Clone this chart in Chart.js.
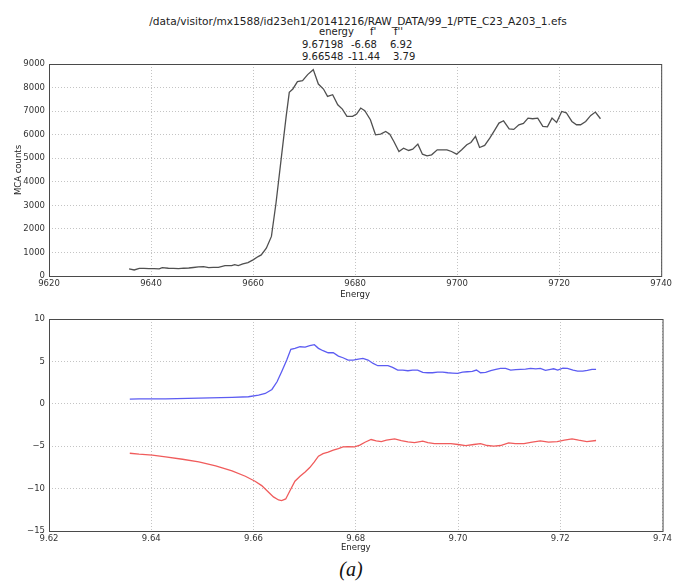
<!DOCTYPE html>
<html>
<head>
<meta charset="utf-8">
<script src="https://cdn.jsdelivr.net/npm/chart.js@4"></script>
<style>
  body { margin: 0; background: #fff; width: 675px; height: 581px; position: relative; overflow: hidden; }
  canvas { position: absolute; left: 0; }
  .t { position: absolute; font: 10.6px "DejaVu Sans", sans-serif; color: #222; line-height: 12px; white-space: pre; }
  .r { font-size: 10px; }
</style>
</head>
<body>
<div class="t" style="left:0;width:716px;top:15px;text-align:center">/data/visitor/mx1588/id23eh1/20141216/RAW_DATA/99_1/PTE_C23_A203_1.efs</div>
<div class="t r" style="left:319px;top:26px">energy</div>
<div class="t r" style="left:370px;top:26px">f'</div>
<div class="t r" style="left:394px;top:26px">f''</div>
<div class="t r" style="left:302px;top:39px">9.67198</div>
<div class="t r" style="left:351px;top:39px">-6.68</div>
<div class="t r" style="left:390px;top:39px">6.92</div>
<div class="t r" style="left:302px;top:51px">9.66548</div>
<div class="t r" style="left:348px;top:51px">-11.44</div>
<div class="t r" style="left:393px;top:51px">3.79</div>

<canvas id="top" width="675" height="300" style="top:0"></canvas>
<canvas id="bottom" width="675" height="256" style="top:300px"></canvas>

<div style="position:absolute;left:351px;top:558px;transform:translateX(-50%);font:italic 20px 'Liberation Serif', serif;color:#111">(a)</div>

<script>
// MCA scan (eV)
const scanEnergy = [
  9635.7, 9636.7, 9637.7, 9638.6, 9639.6, 9640.6, 9641.6, 9642.2, 9643.4, 9644.4,
  9645.4, 9646.4, 9647.4, 9648.3, 9649.3, 9650.3, 9651.3, 9652.2, 9653.2, 9654.5,
  9655.8, 9656.4, 9657.1, 9658.0, 9659.0, 9660.0, 9661.0, 9661.6, 9662.6, 9663.6,
  9664.5, 9665.5, 9666.5, 9667.1, 9667.8, 9668.7, 9669.7, 9670.7, 9671.8, 9672.8,
  9673.8, 9674.6, 9675.6, 9676.6, 9677.5, 9678.4, 9679.5, 9680.3, 9681.1, 9681.9,
  9683.0, 9684.0, 9685.0, 9686.0, 9686.8, 9687.6, 9688.6, 9689.5, 9690.5, 9691.3,
  9692.3, 9693.2, 9694.1, 9695.0, 9696.1, 9697.0, 9698.0, 9698.9, 9699.9, 9700.9,
  9701.9, 9702.7, 9703.6, 9704.4, 9705.4, 9706.4, 9707.4, 9708.2, 9709.1, 9710.2,
  9711.1, 9712.1, 9713.0, 9713.9, 9714.8, 9715.8, 9716.8, 9717.7, 9718.6, 9719.5,
  9720.5, 9721.4, 9722.5, 9723.4, 9724.2, 9725.2, 9726.2, 9727.1, 9728.1
];
const mcaCounts = [
  300, 256, 327, 320, 313, 310, 300, 355, 330, 320,
  313, 330, 340, 360, 384, 400, 355, 365, 370, 441,
  441, 483, 441, 512, 569, 683, 825, 896, 1180, 1680,
  3100, 4950, 6800, 7795, 7940, 8250, 8290, 8550, 8760, 8150,
  7937, 7625, 7695, 7270, 7086, 6775, 6775, 6874, 7130, 7015,
  6633, 5995, 6024, 6137, 6024, 5711, 5286, 5428, 5329, 5385,
  5598, 5173, 5102, 5145, 5357, 5357, 5357, 5286, 5173, 5357,
  5570, 5669, 5924, 5456, 5541, 5853, 6207, 6491, 6590, 6250,
  6222, 6420, 6477, 6703, 6675, 6703, 6349, 6335, 6703, 6519,
  6987, 6930, 6562, 6420, 6420, 6562, 6817, 6959, 6675
];

// f'' (keV)
const fppEnergy = [
  9.6358, 9.6376, 9.6428, 9.6493, 9.6558, 9.6590, 9.6610, 9.6623, 9.6636, 9.6646,
  9.6655, 9.6665, 9.6673, 9.6681, 9.6691, 9.6701, 9.6710, 9.6719, 9.6727, 9.6736,
  9.6746, 9.6756, 9.6766, 9.6775, 9.6785, 9.6795, 9.6805, 9.6814, 9.6824, 9.6834,
  9.6843, 9.6853, 9.6863, 9.6872, 9.6882, 9.6892, 9.6902, 9.6911, 9.6921, 9.6931,
  9.6941, 9.6950, 9.6960, 9.6970, 9.6980, 9.6989, 9.6999, 9.7009, 9.7018, 9.7028,
  9.7036, 9.7044, 9.7054, 9.7064, 9.7074, 9.7083, 9.7093, 9.7103, 9.7113, 9.7122,
  9.7132, 9.7142, 9.7152, 9.7161, 9.7171, 9.7181, 9.7187, 9.7195, 9.7205, 9.7214,
  9.7225, 9.7234, 9.7244, 9.7253, 9.7262, 9.7270
];
const fppValues = [
  0.55, 0.59, 0.59, 0.67, 0.75, 0.83, 1.02, 1.22, 1.69, 2.60,
  3.78, 5.16, 6.42, 6.54, 6.73, 6.69, 6.85, 6.97, 6.54, 6.26,
  6.02, 6.02, 5.63, 5.43, 5.16, 5.16, 5.28, 5.35, 5.16, 4.76,
  4.49, 4.49, 4.49, 4.29, 3.98, 3.98, 3.90, 3.98, 3.98, 3.70,
  3.66, 3.66, 3.74, 3.74, 3.66, 3.62, 3.58, 3.74, 3.78, 3.82,
  3.98, 3.66, 3.70, 3.90, 4.06, 4.17, 4.17, 3.98, 4.02, 4.06,
  4.09, 4.17, 4.13, 4.17, 3.94, 4.06, 4.13, 3.98, 4.21, 4.17,
  3.98, 3.86, 3.86, 3.94, 4.06, 4.06
];

// f' (keV)
const fpEnergy = [
  9.6358, 9.6376, 9.6402, 9.6428, 9.6461, 9.6493, 9.6526, 9.6558, 9.6584, 9.6603,
  9.6616, 9.6629, 9.6639, 9.6649, 9.6655, 9.6663, 9.6671, 9.6681, 9.6691, 9.6701,
  9.6710, 9.6719, 9.6727, 9.6736, 9.6746, 9.6756, 9.6766, 9.6775, 9.6785, 9.6798,
  9.6808, 9.6818, 9.6830, 9.6840, 9.6850, 9.6860, 9.6876, 9.6889, 9.6902, 9.6915,
  9.6931, 9.6941, 9.6954, 9.6970, 9.6986, 9.7000, 9.7015, 9.7031, 9.7044, 9.7057,
  9.7070, 9.7083, 9.7099, 9.7112, 9.7129, 9.7145, 9.7161, 9.7177, 9.7194, 9.7208,
  9.7223, 9.7236, 9.7252, 9.7270
];
const fpValues = [
  -5.83, -5.94, -6.06, -6.26, -6.54, -6.85, -7.32, -7.91, -8.54, -9.13,
  -9.65, -10.39, -10.98, -11.34, -11.42, -11.22, -10.28, -9.13, -8.54, -8.03,
  -7.52, -6.85, -6.18, -5.87, -5.71, -5.47, -5.28, -5.08, -5.04, -5.08,
  -4.88, -4.53, -4.21, -4.37, -4.45, -4.29, -4.13, -4.33, -4.49, -4.57,
  -4.41, -4.57, -4.69, -4.69, -4.69, -4.80, -4.92, -4.80, -4.69, -4.92,
  -5.00, -4.92, -4.61, -4.69, -4.69, -4.53, -4.37, -4.53, -4.45, -4.29,
  -4.13, -4.29, -4.45, -4.33
];

const topTicksX = [9620, 9640, 9660, 9680, 9700, 9720, 9740];
const topTicksY = [0, 1000, 2000, 3000, 4000, 5000, 6000, 7000, 8000, 9000];
const bottomTicksY = [-15, -10, -5, 0, 5, 10];

const FONT = "'DejaVu Sans', sans-serif";
const pairs = (xs, ys) => xs.map((x, i) => ({ x: x, y: ys[i] }));

// matplotlib-ish frame round the plot area
const framePlugin = {
  id: "frame",
  afterDraw(chart) {
    const a = chart.chartArea;
    const ctx = chart.ctx;
    ctx.save();
    ctx.strokeStyle = "#4a4a4a";
    ctx.lineWidth = 1;
    ctx.strokeRect(a.left + 0.5, a.top + 0.5, a.right - a.left, a.bottom - a.top);
    ctx.restore();
  }
};

const tickFont = { family: FONT, size: 8.5 };
const titleFont = { family: FONT, size: 8.5 };

function axisStyle(extra) {
  return Object.assign({
    type: "linear",
    grid: { color: "#c4c4c4", lineWidth: 1, drawTicks: false },
    border: { display: false, dash: [1, 2] }
  }, extra);
}

new Chart(document.getElementById("top"), {
  type: "line",
  data: {
    datasets: [{
      data: pairs(scanEnergy, mcaCounts),
      borderColor: "#505050",
      borderWidth: 1.3,
      pointRadius: 0,
      tension: 0
    }]
  },
  options: {
    responsive: false,
    animation: false,
    devicePixelRatio: 1,
    layout: { padding: { top: 64, right: 10, left: 14, bottom: 0 } },
    plugins: { legend: { display: false }, tooltip: { enabled: false } },
    scales: {
      x: axisStyle({
        min: 9620, max: 9740,
        afterBuildTicks: (s) => { s.ticks = topTicksX.map(v => ({ value: v })); },
        ticks: { color: "#333", font: tickFont, padding: 3, maxRotation: 0, autoSkip: false, callback: (v) => String(v) },
        afterFit: (s) => { s.height = 24; },
        title: { display: true, text: "Energy", color: "#222", font: titleFont, padding: 0 }
      }),
      y: axisStyle({
        min: 0, max: 9000,
        afterBuildTicks: (s) => { s.ticks = topTicksY.map(v => ({ value: v })); },
        ticks: { color: "#333", font: tickFont, padding: 4, autoSkip: false, callback: (v) => String(v) },
        afterFit: (s) => { s.width = 35; },
        title: { display: true, text: "MCA counts", color: "#222", font: titleFont, padding: 0 }
      })
    }
  },
  plugins: [framePlugin]
});

new Chart(document.getElementById("bottom"), {
  type: "line",
  data: {
    datasets: [{
      label: "f''",
      data: pairs(fppEnergy, fppValues),
      borderColor: "#5c5cf2",
      borderWidth: 1.3,
      pointRadius: 0,
      tension: 0
    }, {
      label: "f'",
      data: pairs(fpEnergy, fpValues),
      borderColor: "#f05c5c",
      borderWidth: 1.3,
      pointRadius: 0,
      tension: 0
    }]
  },
  options: {
    responsive: false,
    animation: false,
    devicePixelRatio: 1,
    layout: { padding: { top: 19, right: 10, left: 14, bottom: 0 } },
    plugins: { legend: { display: false }, tooltip: { enabled: false } },
    scales: {
      x: axisStyle({
        min: 9.62, max: 9.74,
        afterBuildTicks: (s) => { s.ticks = topTicksX.map(v => ({ value: v / 1000 })); },
        ticks: { color: "#333", font: tickFont, padding: 3, maxRotation: 0, autoSkip: false,
                 callback: (v) => Number(v).toFixed(2) },
        afterFit: (s) => { s.height = 25; },
        title: { display: true, text: "Energy", color: "#222", font: titleFont, padding: { top: 0, bottom: 3 } }
      }),
      y: axisStyle({
        min: -15, max: 10,
        afterBuildTicks: (s) => { s.ticks = bottomTicksY.map(v => ({ value: v })); },
        ticks: { color: "#333", font: tickFont, padding: 4, autoSkip: false,
                 callback: (v) => v < 0 ? "\u2212" + Math.abs(v) : String(v) },
        afterFit: (s) => { s.width = 35; }
      })
    }
  },
  plugins: [framePlugin]
});
</script>
</body>
</html>
